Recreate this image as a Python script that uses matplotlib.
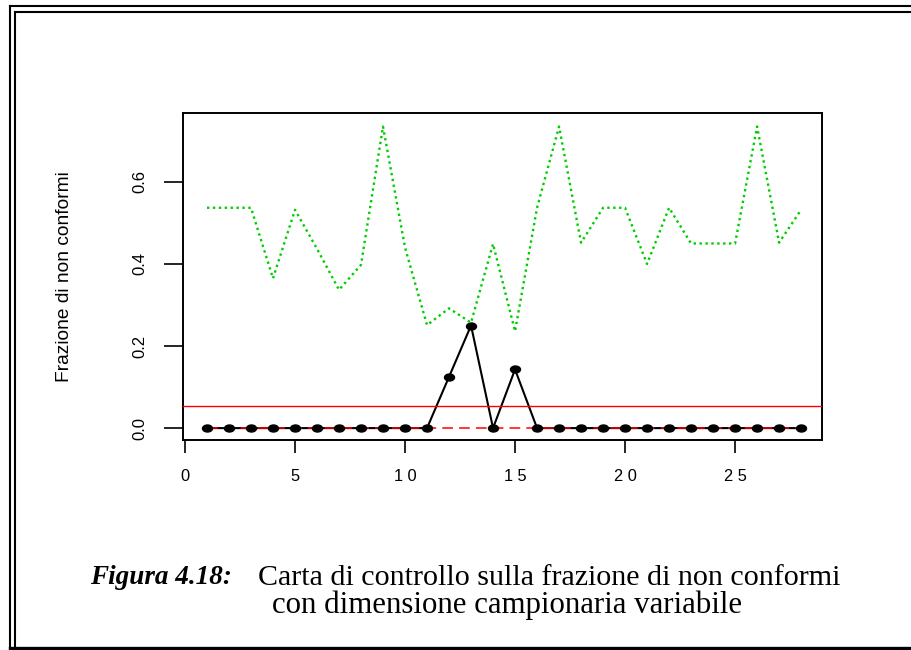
import matplotlib
matplotlib.use("Agg")
import matplotlib.pyplot as plt
from matplotlib.lines import Line2D
from matplotlib.path import Path
from matplotlib.transforms import Affine2D

# fraction of nonconforming units per sample
campioni = list(range(1, 29))
frazione = [0, 0, 0, 0, 0, 0, 0, 0, 0, 0, 0,
            0.125, 0.25, 0, 0.143,
            0, 0, 0, 0, 0, 0, 0, 0, 0, 0, 0, 0, 0]
# upper control limit (changes with sample size)
ucl = [0.537, 0.537, 0.537, 0.365, 0.532, 0.437, 0.337, 0.398, 0.735, 0.44,
       0.251, 0.292, 0.257, 0.449, 0.236, 0.537, 0.735, 0.452, 0.537, 0.537,
       0.40, 0.537, 0.45, 0.45, 0.45, 0.735, 0.452, 0.532]
lcl = [0.0] * 28
centro = 0.0537

x_ticks = [0, 5, 10, 15, 20, 25]
x_tick_labels = ["0", "5", "1 0", "1 5", "2 0", "2 5"]
y_ticks = [0.0, 0.2, 0.4, 0.6]
y_tick_labels = ["0.0", "0.2", "0.4", "0.6"]

W, H = 912, 650
fig = plt.figure(figsize=(W / 100, H / 100), dpi=100)


def fx(px):
    return px / W


def fy(py):
    return 1 - py / H


ax = fig.add_axes([fx(183), fy(440), fx(822) - fx(183), fy(113) - fy(440)])

# slightly flattened dot, like the R plotting symbol
dot = Path.unit_circle().transformed(Affine2D().scale(1, 0.7))

ax.plot(campioni, frazione, color="black", lw=1.5, zorder=2)
ax.plot(campioni, lcl, color="red", lw=1.1, dashes=(7, 4), zorder=3)
ax.plot(campioni, frazione, ls="none", marker=dot, ms=7.2,
        color="black", zorder=4)
ax.axhline(centro, color="red", lw=1.0, zorder=3)
ax.plot(campioni, ucl, color="#00CD00", lw=1.7, ls=(0, (1, 1.5)), zorder=3)

ax.set_xlim(-0.09, 28.95)
ax.set_ylim(-0.029, 0.768)

ax.set_xticks(x_ticks)
ax.set_xticklabels(x_tick_labels)
ax.set_yticks(y_ticks)
ax.set_yticklabels(y_tick_labels, rotation=90, va="center")
ax.tick_params(axis="x", length=9.5, width=1.2, pad=11.5, labelsize=11.8)
ax.tick_params(axis="y", length=14, width=1.2, pad=12, labelsize=12)
for lab in ax.get_xticklabels() + ax.get_yticklabels():
    lab.set_family("Liberation Sans")
for s in ax.spines.values():
    s.set_linewidth(1.4)

fig.text(fx(65), fy(277), "Frazione di non conformi", rotation=90,
         ha="center", va="center", fontsize=13.8, family="Liberation Sans")

# caption
fig.text(fx(90), fy(578), "Figura 4.18:", fontsize=19.5, family="Liberation Serif",
         weight="bold", style="italic", ha="left", va="center")
fig.text(fx(258), fy(578), "Carta di controllo sulla frazione di non conformi",
         fontsize=21.6, family="Liberation Serif", ha="left", va="center")
fig.text(fx(272), fy(605), "con dimensione campionaria variabile",
         fontsize=22.2, family="Liberation Serif", ha="left", va="center")

# double frame round the figure
lw2 = 1.5
for xs, ys, w in [
    ([10.5, 10.5], [5.5, 650], lw2),
    ([10.5, 912], [5.5, 5.5], lw2),
    ([15.5, 15.5], [11.5, 650], lw2),
    ([15.5, 912], [11.5, 11.5], lw2),
    ([10, 912], [647.5, 647.5], 2.4),
]:
    fig.add_artist(Line2D([fx(v) for v in xs], [fy(v) for v in ys],
                          color="black", lw=w, transform=fig.transFigure))

fig.savefig("out.png", dpi=100)
